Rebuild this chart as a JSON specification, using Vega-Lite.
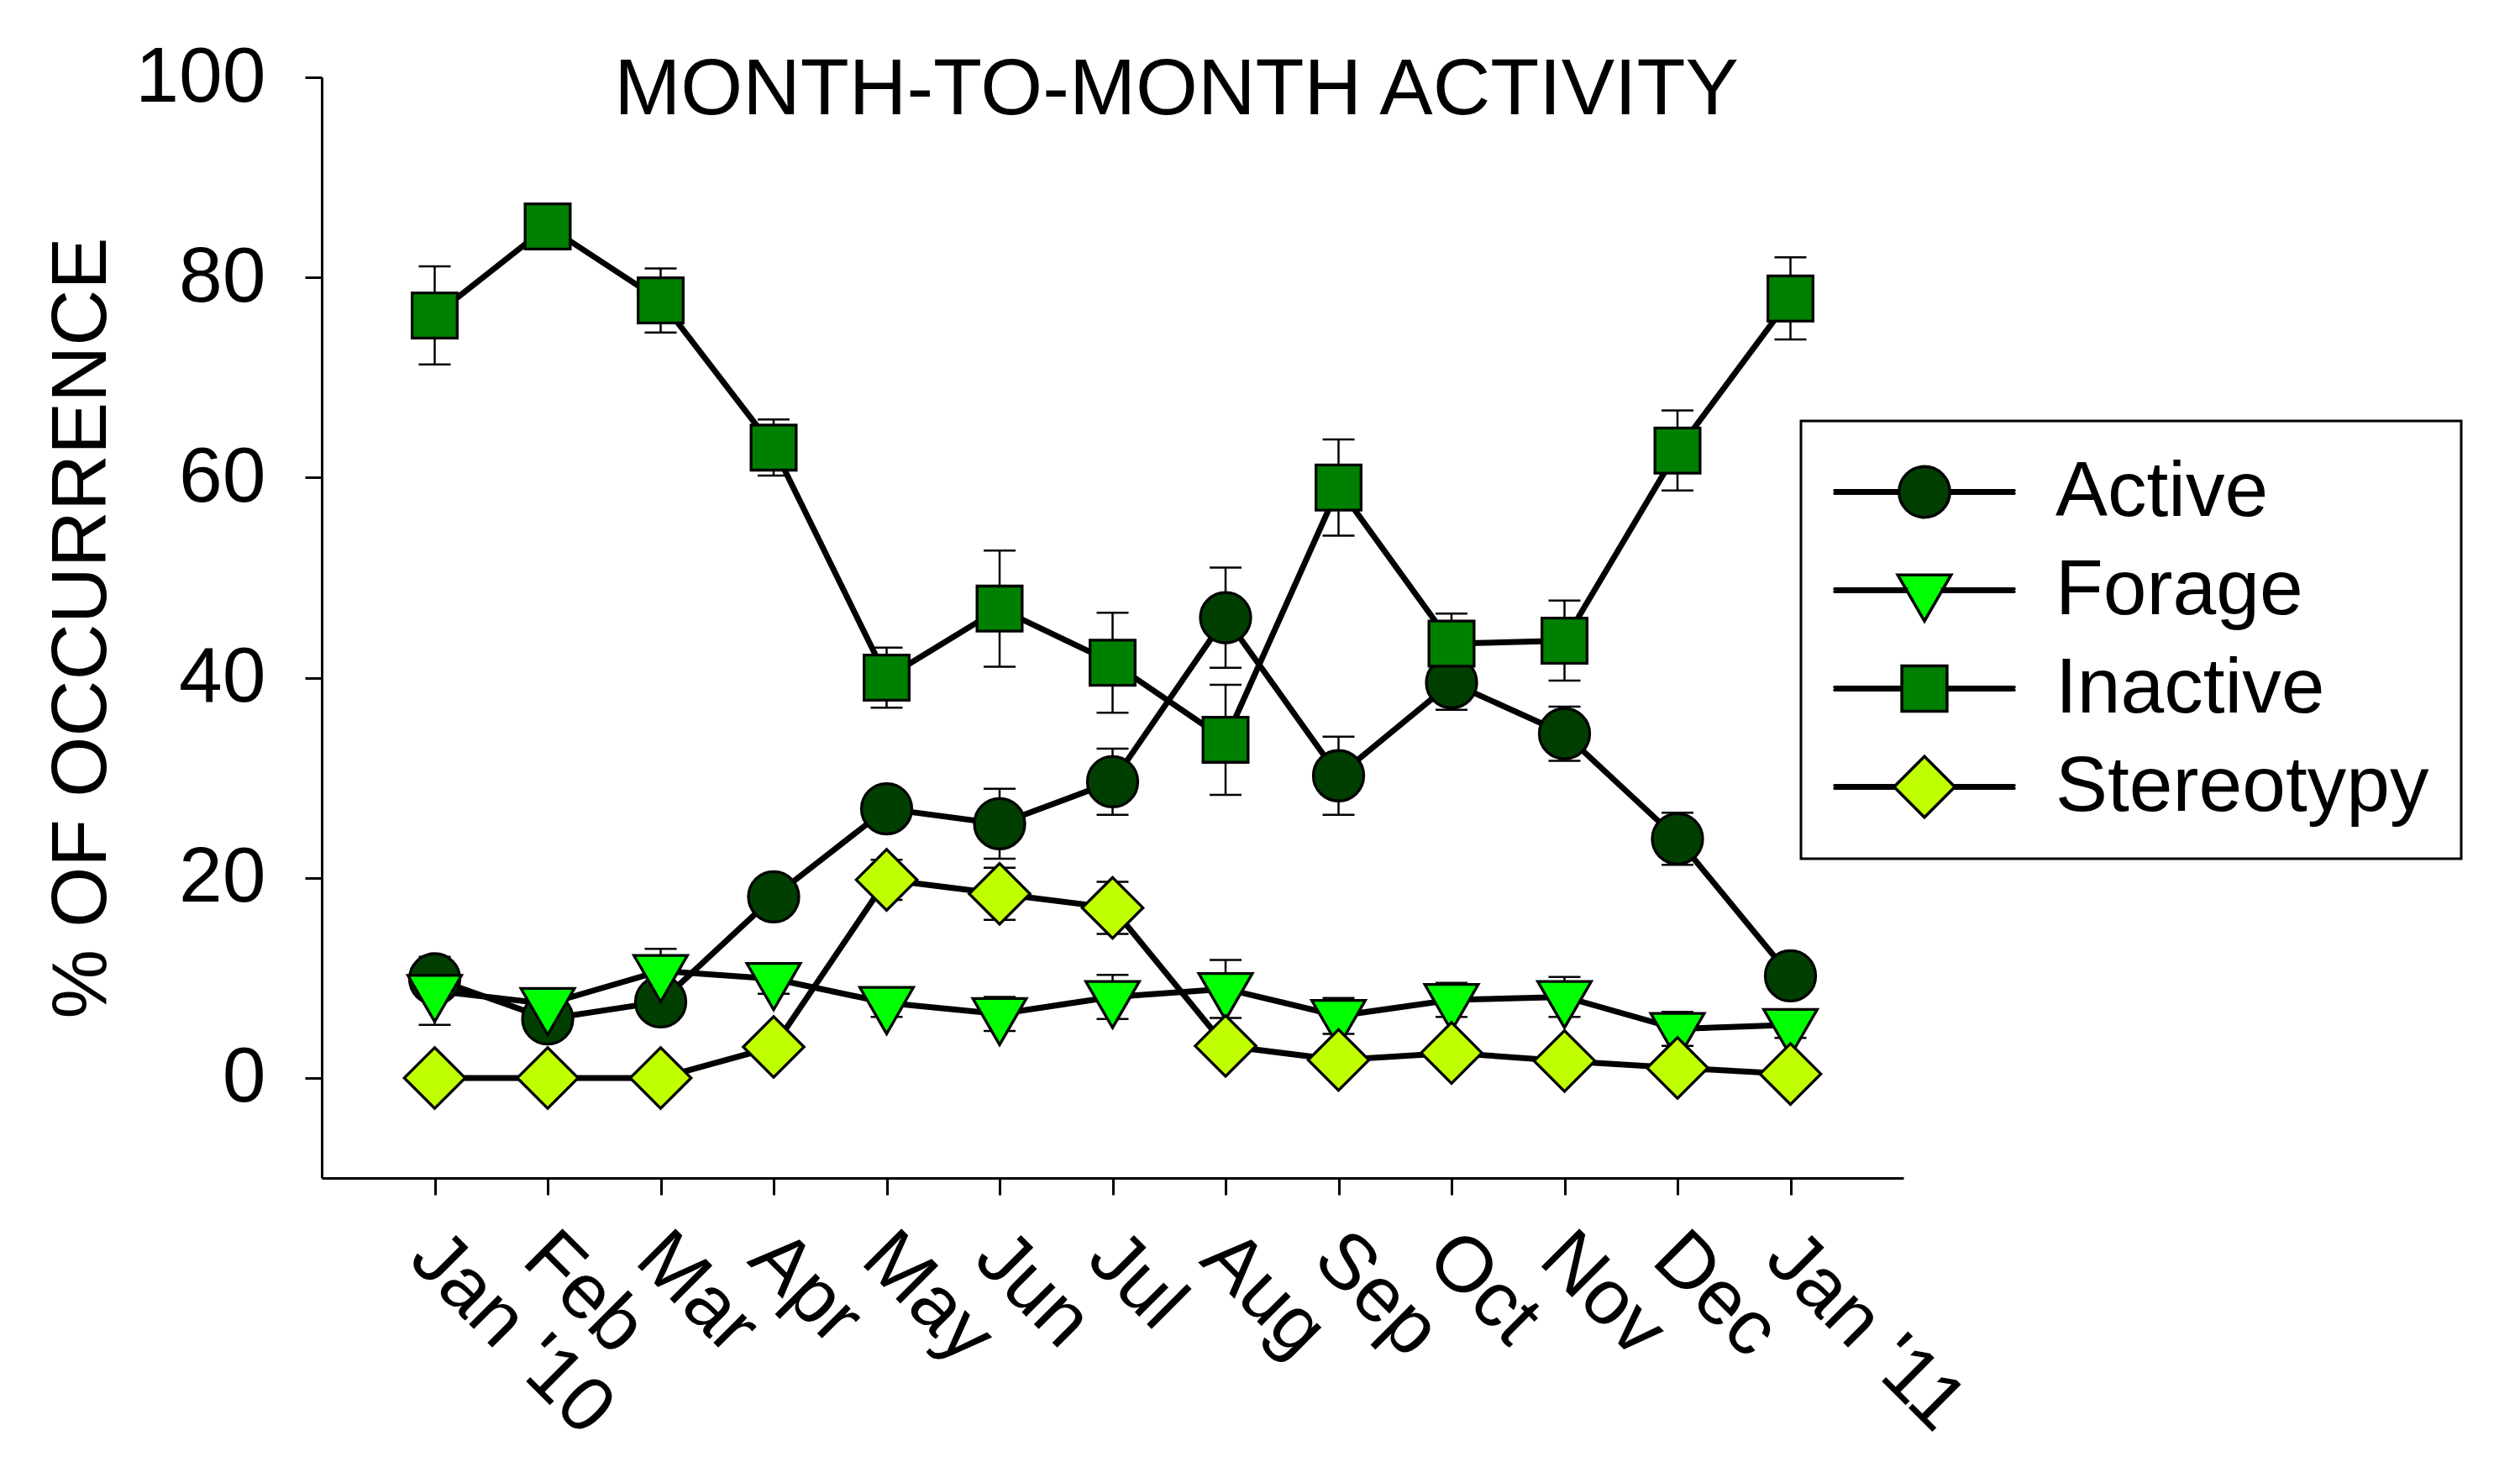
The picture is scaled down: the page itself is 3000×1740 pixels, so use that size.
{
  "$schema": "https://vega.github.io/schema/vega-lite/v6.json",
  "autosize": {"type": "none"},
  "padding": {"left": 383, "top": 92, "right": 734, "bottom": 338},
  "width": 1883,
  "height": 1310,
  "background": "white",
  "config": {
    "view": {"stroke": null},
    "font": "Liberation Sans",
    "axis": {
      "grid": false,
      "domainColor": "black",
      "domainWidth": 3,
      "tickColor": "black",
      "tickWidth": 3,
      "tickSize": 20,
      "labelColor": "black",
      "labelFont": "Liberation Sans",
      "labelFontSize": 93,
      "labelLimit": 1000,
      "titleFont": "Liberation Sans",
      "titleFontSize": 93,
      "titleFontWeight": "normal",
      "titleColor": "black"
    }
  },
  "title": {
    "text": "MONTH-TO-MONTH ACTIVITY",
    "font": "Liberation Sans",
    "fontSize": 95,
    "fontWeight": "normal",
    "color": "black",
    "anchor": "middle",
    "frame": "group",
    "baseline": "top",
    "offset": -110,
    "dx": 76
  },
  "data": {
    "values": [
      {"s": "Active", "m": 0, "v": 9.9, "lo": 8.4, "hi": 11.4},
      {"s": "Active", "m": 1, "v": 5.9, "lo": 5.1, "hi": 6.7},
      {"s": "Active", "m": 2, "v": 7.6, "lo": 6.8, "hi": 8.4},
      {"s": "Active", "m": 3, "v": 18.1, "lo": 17.3, "hi": 18.9},
      {"s": "Active", "m": 4, "v": 26.9, "lo": 26.1, "hi": 27.7},
      {"s": "Active", "m": 5, "v": 25.4, "lo": 21.9, "hi": 28.9},
      {"s": "Active", "m": 6, "v": 29.6, "lo": 26.3, "hi": 32.9},
      {"s": "Active", "m": 7, "v": 46.0, "lo": 41.0, "hi": 51.0},
      {"s": "Active", "m": 8, "v": 30.2, "lo": 26.3, "hi": 34.1},
      {"s": "Active", "m": 9, "v": 39.5, "lo": 36.8, "hi": 42.2},
      {"s": "Active", "m": 10, "v": 34.4, "lo": 31.7, "hi": 37.1},
      {"s": "Active", "m": 11, "v": 23.9, "lo": 21.3, "hi": 26.5},
      {"s": "Active", "m": 12, "v": 10.2, "lo": 9.7, "hi": 10.7},
      {"s": "Forage", "m": 0, "v": 8.7, "lo": 5.3, "hi": 12.1},
      {"s": "Forage", "m": 1, "v": 7.4, "lo": 6.6, "hi": 8.2},
      {"s": "Forage", "m": 2, "v": 10.7, "lo": 8.5, "hi": 12.9},
      {"s": "Forage", "m": 3, "v": 9.9, "lo": 8.4, "hi": 11.4},
      {"s": "Forage", "m": 4, "v": 7.5, "lo": 6.1, "hi": 8.9},
      {"s": "Forage", "m": 5, "v": 6.4, "lo": 4.7, "hi": 8.1},
      {"s": "Forage", "m": 6, "v": 8.1, "lo": 5.9, "hi": 10.3},
      {"s": "Forage", "m": 7, "v": 8.9, "lo": 6.0, "hi": 11.8},
      {"s": "Forage", "m": 8, "v": 6.2, "lo": 4.4, "hi": 8.0},
      {"s": "Forage", "m": 9, "v": 7.8, "lo": 6.1, "hi": 9.5},
      {"s": "Forage", "m": 10, "v": 8.1, "lo": 6.1, "hi": 10.1},
      {"s": "Forage", "m": 11, "v": 4.9, "lo": 3.2, "hi": 6.6},
      {"s": "Forage", "m": 12, "v": 5.3, "lo": 4.0, "hi": 6.6},
      {"s": "Inactive", "m": 0, "v": 76.2, "lo": 71.3, "hi": 81.1},
      {"s": "Inactive", "m": 1, "v": 85.1, "lo": 84.1, "hi": 86.1},
      {"s": "Inactive", "m": 2, "v": 77.7, "lo": 74.5, "hi": 80.9},
      {"s": "Inactive", "m": 3, "v": 63.0, "lo": 60.2, "hi": 65.8},
      {"s": "Inactive", "m": 4, "v": 40.0, "lo": 37.0, "hi": 43.0},
      {"s": "Inactive", "m": 5, "v": 46.9, "lo": 41.1, "hi": 52.7},
      {"s": "Inactive", "m": 6, "v": 41.5, "lo": 36.5, "hi": 46.5},
      {"s": "Inactive", "m": 7, "v": 33.8, "lo": 28.3, "hi": 39.3},
      {"s": "Inactive", "m": 8, "v": 59.0, "lo": 54.2, "hi": 63.8},
      {"s": "Inactive", "m": 9, "v": 43.4, "lo": 40.4, "hi": 46.4},
      {"s": "Inactive", "m": 10, "v": 43.7, "lo": 39.7, "hi": 47.7},
      {"s": "Inactive", "m": 11, "v": 62.7, "lo": 58.7, "hi": 66.7},
      {"s": "Inactive", "m": 12, "v": 77.9, "lo": 73.8, "hi": 82.0},
      {"s": "Stereotypy", "m": 0, "v": 0.0, "lo": 0.0, "hi": 0.0},
      {"s": "Stereotypy", "m": 1, "v": 0.0, "lo": 0.0, "hi": 0.0},
      {"s": "Stereotypy", "m": 2, "v": 0.0, "lo": 0.0, "hi": 0.0},
      {"s": "Stereotypy", "m": 3, "v": 3.1, "lo": 2.6, "hi": 3.6},
      {"s": "Stereotypy", "m": 4, "v": 19.8, "lo": 17.8, "hi": 21.8},
      {"s": "Stereotypy", "m": 5, "v": 18.4, "lo": 15.8, "hi": 21.0},
      {"s": "Stereotypy", "m": 6, "v": 17.0, "lo": 14.4, "hi": 19.6},
      {"s": "Stereotypy", "m": 7, "v": 3.2, "lo": 2.7, "hi": 3.7},
      {"s": "Stereotypy", "m": 8, "v": 1.8, "lo": 1.5, "hi": 2.1},
      {"s": "Stereotypy", "m": 9, "v": 2.5, "lo": 2.2, "hi": 2.8},
      {"s": "Stereotypy", "m": 10, "v": 1.7, "lo": 1.4, "hi": 2.0},
      {"s": "Stereotypy", "m": 11, "v": 1.0, "lo": 0.7, "hi": 1.3},
      {"s": "Stereotypy", "m": 12, "v": 0.4, "lo": 0.2, "hi": 0.6}
    ]
  },
  "encoding": {
    "x": {
      "field": "m",
      "type": "quantitative",
      "scale": {"domain": [-1, 13], "nice": false, "zero": false},
      "axis": {
        "title": null,
        "values": [0, 1, 2, 3, 4, 5, 6, 7, 8, 9, 10, 11, 12],
        "labelExpr": "[\"Jan '10\",\"Feb\",\"Mar\",\"Apr\",\"May\",\"Jun\",\"Jul\",\"Aug\",\"Sep\",\"Oct\",\"Nov\",\"Dec\",\"Jan '11\"][datum.value]",
        "labelAngle": 45,
        "labelAlign": "left",
        "labelBaseline": "top",
        "labelPadding": 28,
        "labelOffset": 18,
        "labelOverlap": false,
        "labelBound": false,
        "labelFlush": false
      }
    }
  },
  "layer": [
    {
      "mark": {"type": "rule", "color": "black", "strokeWidth": 2.5},
      "encoding": {
        "y": {
          "field": "lo",
          "type": "quantitative",
          "scale": {"domain": [-10, 100], "nice": false, "zero": false},
          "axis": {
            "title": "% OF OCCURRENCE",
            "values": [0, 20, 40, 60, 80, 100],
            "labelPadding": 47,
            "titlePadding": 38
          }
        },
        "y2": {"field": "hi"}
      }
    },
    {
      "mark": {"type": "tick", "orient": "horizontal", "color": "black", "size": 38, "thickness": 2.5, "opacity": 1},
      "encoding": {"y": {"field": "lo", "type": "quantitative"}}
    },
    {
      "mark": {"type": "tick", "orient": "horizontal", "color": "black", "size": 38, "thickness": 2.5, "opacity": 1},
      "encoding": {"y": {"field": "hi", "type": "quantitative"}}
    },
    {
      "mark": {"type": "line", "color": "black", "strokeWidth": 7},
      "encoding": {
        "y": {"field": "v", "type": "quantitative"},
        "detail": {"field": "s", "type": "nominal"}
      }
    },
    {
      "mark": {"type": "point", "filled": true, "stroke": "black", "strokeWidth": 3.3, "size": 5625, "opacity": 1},
      "encoding": {
        "y": {"field": "v", "type": "quantitative"},
        "color": {
          "field": "s",
          "type": "nominal",
          "scale": {
            "domain": ["Active", "Forage", "Inactive", "Stereotypy"],
            "range": ["#003f00", "#00ff00", "#008000", "#bfff00"]
          },
          "legend": {
            "title": null,
            "orient": "none",
            "legendX": 1761,
            "legendY": 409,
            "labelFont": "Liberation Sans",
            "labelFontSize": 93,
            "labelColor": "black",
            "labelLimit": 0,
            "padding": 38,
            "rowPadding": 23,
            "symbolSize": 4096,
            "symbolStrokeWidth": 3.5,
            "symbolStrokeColor": "black",
            "symbolOffset": 62.5,
            "labelOffset": 109.5,
            "strokeColor": "black",
            "encoding": {
              "legend": {"stroke": {"value": "black"}, "strokeWidth": {"value": 3}},
              "symbols": {
                "shape": {"value": {"expr": "datum.value === 'Active' ? 'M-3.344,-0.053H-0.945M-3.344,0.053H-0.945M0.945,-0.053H3.344M0.945,0.053H3.344M0.945,0A0.945,0.945,0,1,1,-0.945,0A0.945,0.945,0,1,1,0.945,0Z' : datum.value === 'Forage' ? 'M-3.344,-0.053H-0.663M-3.344,0.053H-0.663M0.663,-0.053H3.344M0.663,0.053H3.344M-0.994,-0.572L0.994,-0.572L0,1.147Z' : datum.value === 'Inactive' ? 'M-3.344,-0.053H-0.841M-3.344,0.053H-0.841M0.841,-0.053H3.344M0.841,0.053H3.344M-0.841,-0.841H0.841V0.841H-0.841Z' : 'M-3.344,-0.053H-1.131M-3.344,0.053H-1.131M1.131,-0.053H3.344M1.131,0.053H3.344M-1.131,0L0,-1.131L1.131,0L0,1.131Z'"}},
                "size": {"value": 4096},
                "stroke": {"value": "black"},
                "strokeWidth": {"value": 3.5},
                "strokeCap": {"value": "round"},
                "opacity": {"value": 1}
              }
            }
          }
        },
        "shape": {
          "field": "s",
          "type": "nominal",
          "scale": {
            "domain": ["Stereotypy", "Inactive", "Forage", "Active"],
            "range": [
              "M-0.965,0L0,-0.965L0.965,0L0,0.965Z",
              "M-0.716,-0.716H0.716V0.716H-0.716Z",
              "M-0.85,-0.49L0.85,-0.49L0,0.98Z",
              "M0.8,0A0.8,0.8,0,1,1,-0.8,0A0.8,0.8,0,1,1,0.8,0Z"
            ]
          },
          "legend": null
        }
      }
    }
  ]
}
